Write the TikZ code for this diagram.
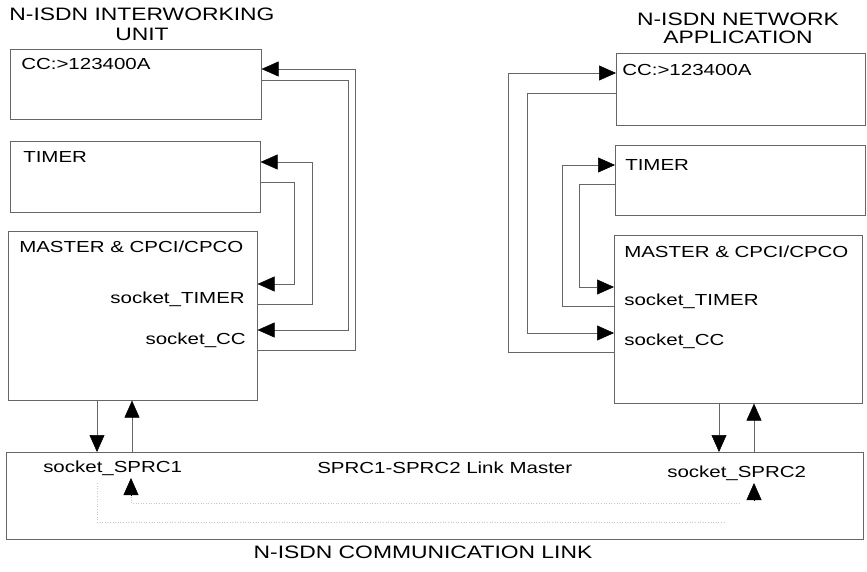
\documentclass[tikz,border=0pt]{standalone}
\usepackage{fontspec}
\setmainfont{Liberation Sans}
\usetikzlibrary{arrows.meta}

\tikzset{
  box/.style={draw=black!60, line width=.6pt, anchor=north west, inner sep=0},
  lbl/.style={font=\fontsize{16}{18}\selectfont, xscale=1.28, anchor=base west, inner sep=0},
  ttl/.style={font=\fontsize{18}{20}\selectfont, xscale=1.27, anchor=base, inner sep=0},
  wire/.style={draw=black!60, line width=.5pt},
  tip/.style={-{Triangle[length=17pt,width=15pt,color=black]}},
  faint/.style={draw=black!22, line width=.6pt, dotted},
}

\begin{document}
\begin{tikzpicture}[x=1pt, y=-1pt]
\useasboundingbox (0,0) rectangle (867,571);
% titles
\node[ttl] (tIWU) at (142,20) {N-ISDN INTERWORKING};
\node[ttl] (tIWU2) at (142,40) {UNIT};
\node[ttl] (tNA) at (738,25) {N-ISDN NETWORK};
\node[ttl] (tNA2) at (738,43) {APPLICATION};
\node[ttl] (tLNK) at (423,558) {N-ISDN COMMUNICATION LINK};
% left column
\node[box, minimum width=251, minimum height=70] (ccL) at (10,49) {};
\node[box, minimum width=250, minimum height=71] (tmL) at (10,141) {};
\node[box, minimum width=249, minimum height=169] (mL) at (8,231) {};
\node[lbl] at (21,69) {CC:>123400A};
\node[lbl] at (23,162) {TIMER};
\node[lbl] at (19,252) {MASTER \& CPCI/CPCO};
\node[lbl, anchor=base east] (skTL) at (245,303) {socket\_TIMER};
\node[lbl, anchor=base east] (skCL) at (246,344) {socket\_CC};
% right column
\node[box, minimum width=249, minimum height=72] (ccR) at (616,53) {};
\node[box, minimum width=250, minimum height=70] (tmR) at (615,145) {};
\node[box, minimum width=248, minimum height=168] (mR) at (614,235) {};
\node[lbl] at (622,75) {CC:>123400A};
\node[lbl] at (625,170) {TIMER};
\node[lbl] at (624,257) {MASTER \& CPCI/CPCO};
\node[lbl] (skTR) at (624,305) {socket\_TIMER};
\node[lbl] (skCR) at (624,345) {socket\_CC};
% link
\node[box, minimum width=857, minimum height=87] (lnk) at (6,452) {};
\node[lbl] (skS1) at (43,472) {socket\_SPRC1};
\node[lbl] (skS2) at (667,477) {socket\_SPRC2};
\node[lbl] at (317,473) {SPRC1-SPRC2 Link Master};

% socket wires, left
\foreach \s/\sy/\x/\d/\dy in {mL/350/355/ccL/69, ccL/80/348/mL/330, mL/304/312/tmL/162, tmL/182/294/mL/284}{
  \draw[wire, tip] (\s.east |- 0,\sy) -| (\x,\dy) -- (\d.east |- 0,\dy);
}
% socket wires, right
\foreach \s/\sy/\x/\d/\dy in {mR/352/508/ccR/73, ccR/93/527/mR/333, mR/306/562/tmR/165, tmR/184/579/mR/287}{
  \draw[wire, tip] (\s.west |- 0,\sy) -| (\x,\dy) -- (\d.west |- 0,\dy);
}

% to and from the link
\draw[wire, tip] (mL.south -| 97,0) -- (lnk.north -| 97,0);
\draw[wire, tip] (lnk.north -| 132,0) -- (mL.south -| 132,0);
\draw[wire, tip] (mR.south -| 719,0) -- (lnk.north -| 719,0);
\draw[wire, tip] (lnk.north -| 754,0) -- (mR.south -| 754,0);

% inside the link
\draw[faint] (97,483) -- (97,522) -- (725,522);
\draw[faint] (131,492) -- (131,503) -- (740,503);
\draw[tip] (131,495) -- (131,478);
\draw[tip] (754,500) -- (754,483);
\end{tikzpicture}
\end{document}
